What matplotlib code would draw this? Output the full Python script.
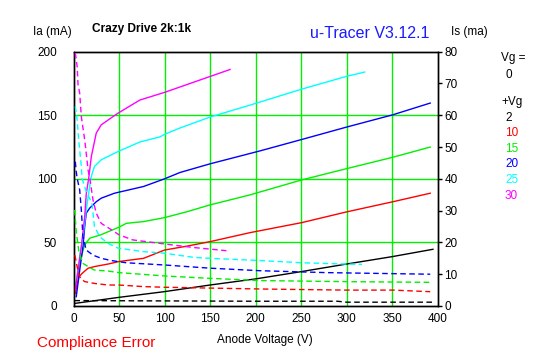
import matplotlib
matplotlib.use("Agg")
import matplotlib.pyplot as plt

plt.rcParams['font.family'] = ['Liberation Sans', 'DejaVu Sans']

# ---- data (anode voltage V, anode current Ia mA, screen current Is mA) ----
vg_labels = ["2", "10", "15", "20", "25", "30"]
colors = ["#000000", "#ff0000", "#00f000", "#0000ff", "#00ffff", "#ff00ff"]

va_ia_2 = [1, 50, 100, 150, 200, 250, 300, 350, 395]
ia_2 = [2, 6.8, 11.3, 16.5, 21.3, 27, 33, 38.8, 44.6]
va_is_2 = [1, 100, 200, 290, 300, 395]
is_2 = [1.7, 1.6, 1.5, 1.5, 1.2, 1.2]

va_ia_10 = [2, 4, 6, 10, 16, 23, 38, 50, 77, 100, 124, 150, 194, 251, 300, 351, 392]
ia_10 = [10, 18, 23, 26, 29.7, 31, 33, 35, 37.5, 44, 47, 50.6, 57.7, 65.6, 74, 82, 88.7]
va_is_10 = [1.5, 4, 6.8, 12, 23, 38, 50, 77, 100, 205, 300, 351, 392]
is_10 = [16, 12.4, 9.2, 7.7, 7.1, 6.6, 6.6, 6.1, 5.9, 5.35, 5.0, 5.0, 4.5]

va_ia_15 = [1.3, 5, 8.6, 12.3, 17.8, 30, 50, 58, 77, 100, 124, 150, 194, 251, 300, 351, 392]
ia_15 = [15, 25.7, 39, 48, 53.3, 56, 62, 65, 66.4, 69.5, 74, 79.5, 87.4, 99.2, 108, 117, 125]
va_is_15 = [1.3, 3, 6, 10.4, 16, 23, 38, 50, 100, 150, 205, 300, 392]
is_15 = [30.2, 23.4, 17, 13.4, 12.4, 11.3, 11, 10.5, 9.45, 8.7, 8.0, 7.66, 7.45]

va_ia_20 = [3, 6.8, 10.4, 12.3, 14, 17.8, 25, 30.5, 45, 77, 100, 117, 150, 205, 251, 300, 351, 392]
ia_20 = [7.3, 28, 46.7, 62.4, 73, 77, 82, 84.8, 88.7, 94, 100, 105, 111.8, 122, 131, 140.7, 150.4, 159.6]
va_is_20 = [2, 3, 4, 6.8, 8.6, 10.4, 14, 21.4, 30.5, 41.5, 58, 100, 150, 205, 278, 392]
is_20 = [45.4, 42.3, 40.2, 36.5, 30.2, 21.8, 17.6, 16, 15, 14.3, 13.6, 12.9, 11.9, 11.1, 10.5, 10]

va_ia_25 = [3, 6.8, 10.4, 14, 17.8, 19.6, 23, 30.5, 49, 73, 95, 100, 117, 150, 194, 251, 300, 320]
ia_25 = [18, 39, 54.6, 75.6, 94, 102, 109.7, 115, 121.5, 129, 133, 135, 140, 148.6, 158, 170.6, 180.6, 184]
va_is_25 = [2, 4, 5.7, 8.6, 9.3, 14, 20.3, 23, 28.8, 38, 49, 77, 100, 132, 150, 205, 251, 300, 317]
is_25 = [62.8, 58.6, 52.3, 43.9, 40.2, 36, 32.3, 25, 21.8, 19.7, 18.2, 17.1, 16.6, 15.3, 15, 14.3, 13.6, 13.2, 13.1]

va_ia_30 = [2, 5, 8.6, 12.3, 14, 16.7, 19.6, 25, 30.5, 41.5, 49, 73, 100, 124, 150, 172]
ia_30 = [12.6, 28, 46.7, 70, 88, 100.5, 117.6, 136, 142.5, 148, 151.7, 162, 168, 174, 180.5, 186]
va_is_30 = [2, 4, 5, 6.8, 8.6, 12.3, 14, 16, 18, 21.4, 25, 30.5, 41.5, 50, 65, 95, 132, 150, 168]
is_30 = [79.6, 75.4, 69.6, 67, 59.6, 52.3, 48, 42.8, 40, 33.4, 29.2, 26, 24, 22.4, 20.8, 19.7, 18.4, 17.9, 17.4]

ia_curves = [(va_ia_2, ia_2), (va_ia_10, ia_10), (va_ia_15, ia_15),
             (va_ia_20, ia_20), (va_ia_25, ia_25), (va_ia_30, ia_30)]
is_curves = [(va_is_2, is_2), (va_is_10, is_10), (va_is_15, is_15),
             (va_is_20, is_20), (va_is_25, is_25), (va_is_30, is_30)]

x_ticks = [0, 50, 100, 150, 200, 250, 300, 350, 400]
ia_ticks = [0, 50, 100, 150, 200]
is_ticks = [0, 10, 20, 30, 40, 50, 60, 70, 80]

# ---- figure ----
W, H = 547, 357
fig = plt.figure(figsize=(W / 100, H / 100), dpi=100)
ax = fig.add_axes([73.5 / W, 1 - 306 / H, (437.5 - 73.5) / W, (306 - 51.7) / H])
ax2 = ax.twinx()

grid_c = "#00f000"
ax.set_xlim(0, 400)
ax.set_ylim(0, 200)
ax2.set_ylim(0, 80)

for v in x_ticks[1:-1]:
    ax.axvline(v, color=grid_c, lw=1.0, zorder=1)
for y in ia_ticks[1:-1]:
    ax.axhline(y, color=grid_c, lw=1.0, zorder=1)

for (vx, vy), c in zip(ia_curves, colors):
    ax.plot(vx, vy, color=c, lw=1.0, zorder=3)
for (vx, vy), c in zip(is_curves, colors):
    ax2.plot(vx, vy, color=c, lw=1.0, ls=(0, (4, 2.5)), zorder=3)

fs = 8.5
ax.set_xticks(x_ticks)
ax.set_xticklabels([str(t) for t in x_ticks], fontsize=fs)
ax.set_yticks(ia_ticks)
ax.set_yticklabels([str(t) for t in ia_ticks], fontsize=fs)
ax2.set_yticks(is_ticks)
ax2.set_yticklabels([str(t) for t in is_ticks], fontsize=fs)
ax.tick_params(axis='x', length=0, pad=5)
ax.tick_params(axis='y', length=0, pad=12)
ax2.tick_params(axis='y', length=3, width=1, pad=2, direction='out')

for a in (ax, ax2):
    for s in a.spines.values():
        s.set_color("black")
        s.set_linewidth(1.0)

# text
fig.text(33 / W, 1 - 32 / H, "Ia (mA)", fontsize=fs, va='center', ha='left')
fig.text(451 / W, 1 - 32 / H, "Is (ma)", fontsize=fs, va='center', ha='left')
fig.text(92 / W, 1 - 29 / H, "Crazy Drive 2k:1k", fontsize=8.6, fontweight='bold',
         va='center', ha='left')
fig.text(310 / W, 1 - 33 / H, "u-Tracer V3.12.1", fontsize=11.5, color="#1a1aff",
         va='center', ha='left')
fig.text(265 / W, 1 - 340 / H, "Anode Voltage (V)", fontsize=fs, va='center', ha='center')
fig.text(37 / W, 1 - 343 / H, "Compliance Error", fontsize=11, color="#ff0000",
         va='center', ha='left')

# legend block
fig.text(501 / W, 1 - 58 / H, "Vg =", fontsize=fs, va='center', ha='left')
fig.text(505 / W, 1 - 75 / H, "0", fontsize=fs, va='center', ha='left')
fig.text(501 / W, 1 - 102 / H, "+Vg", fontsize=fs, va='center', ha='left')
for i, (lab, c) in enumerate(zip(vg_labels, colors)):
    fig.text(505 / W, 1 - (118 + i * 15.5) / H, lab, fontsize=fs, color=c,
             va='center', ha='left')

fig.savefig("out.png", dpi=100, facecolor="white")
